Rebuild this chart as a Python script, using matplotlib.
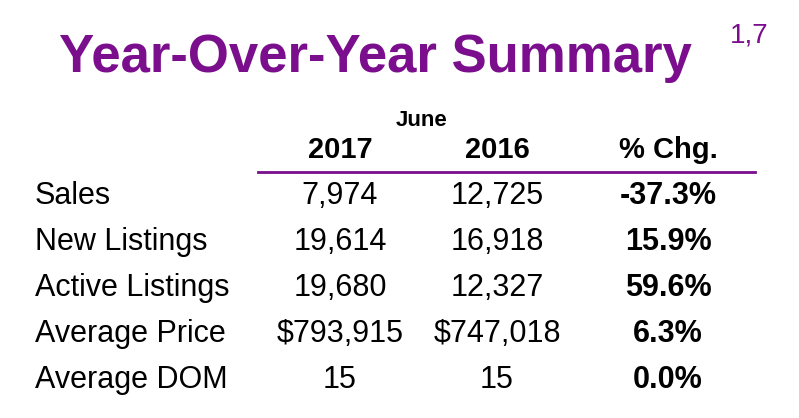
import matplotlib
matplotlib.use("Agg")
import matplotlib.pyplot as plt

title = "Year-Over-Year Summary"
sup = "1,7"
month = "June"
headers = ["2017", "2016", "% Chg."]
rows = ["Sales", "New Listings", "Active Listings", "Average Price", "Average DOM"]
v2017 = ["7,974", "19,614", "19,680", "$793,915", "15"]
v2016 = ["12,725", "16,918", "12,327", "$747,018", "15"]
chg = ["-37.3%", "15.9%", "59.6%", "6.3%", "0.0%"]

W, H = 799, 418
purple = "#7A0E8C"
fig = plt.figure(figsize=(W/100, H/100), dpi=100)
ax = fig.add_axes([0, 0, 1, 1])
ax.set_xlim(0, W); ax.set_ylim(H, 0); ax.axis("off")
fn = "Liberation Sans"

ax.text(375, 58, title, color=purple, fontsize=38, fontweight="bold", family=fn, ha="center", va="center")
ax.text(749, 36, sup, color=purple, fontsize=20, family=fn, ha="center", va="center")
ax.text(422, 121, month, fontsize=16, fontweight="bold", family=fn, ha="center", va="center")
cols = [340, 497, 668]
for x, h in zip(cols, headers):
    ax.text(x, 150, h, fontsize=21, fontweight="bold", family=fn, ha="center", va="center")
ax.plot([258, 755], [172, 172], color=purple, lw=2)
ys = [196, 242, 288, 334, 380]
for y, r, a, b, c in zip(ys, rows, v2017, v2016, chg):
    ax.text(35, y, r, fontsize=22, family=fn, ha="left", va="center")
    ax.text(cols[0], y, a, fontsize=22, family=fn, ha="center", va="center")
    ax.text(cols[1], y, b, fontsize=22, family=fn, ha="center", va="center")
    ax.text(cols[2], y, c, fontsize=22, fontweight="bold", family=fn, ha="center", va="center")
fig.savefig("out.png", dpi=100)
